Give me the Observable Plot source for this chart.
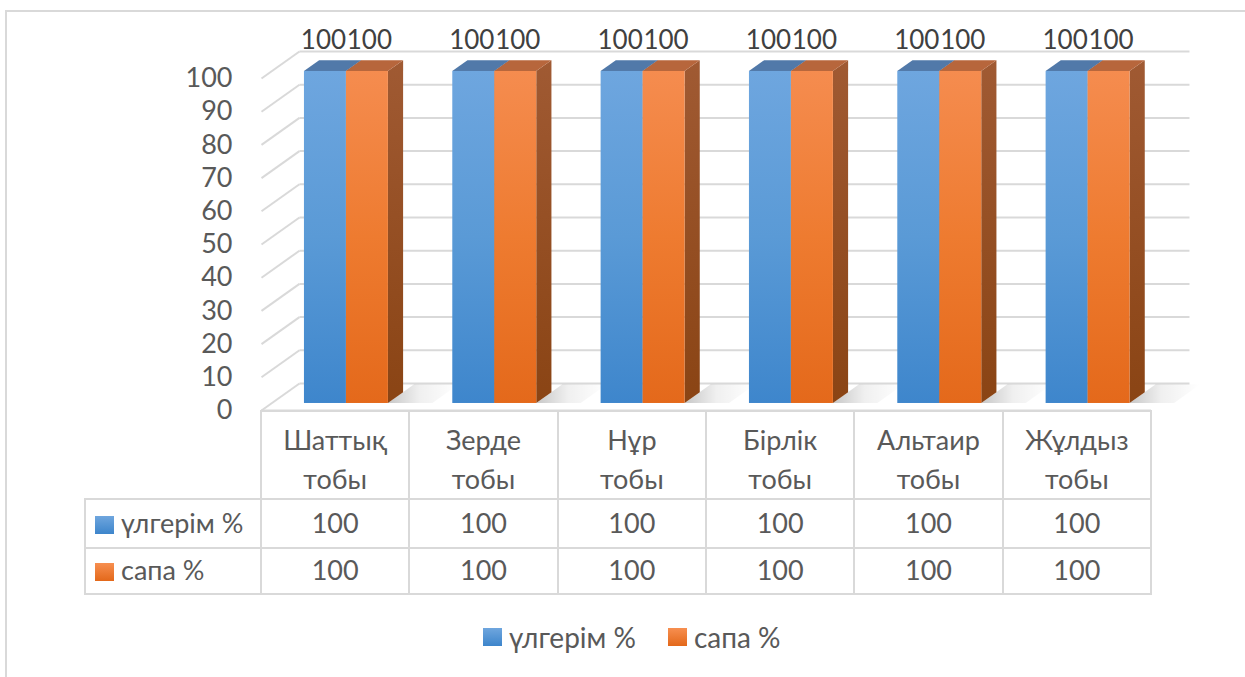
<!DOCTYPE html>
<html>
<head>
<meta charset="utf-8">
<script src="https://cdn.jsdelivr.net/npm/d3@7"></script>
<script src="https://cdn.jsdelivr.net/npm/@observablehq/plot@0.6"></script>
<style>
  body { margin: 0; background: #fff; }
  #wrap { position: relative; width: 1245px; height: 677px; overflow: hidden; font-family: Lato, "Open Sans", "Noto Sans", sans-serif; color: #595959; }
  #frame { position: absolute; left: 5px; top: 10px; width: 1400px; height: 800px; border-left: 2px solid #d9d9d9; border-top: 2px solid #d9d9d9; box-sizing: border-box; }
  #chart { position: absolute; left: 0; top: 0; }
  #chart svg { overflow: visible; }
  table.dt { position: absolute; border-collapse: collapse; table-layout: fixed; font-size: 27px; color: #595959; }
  table.dt td { border: 2px solid #d9d9d9; padding: 0 0 3px 0; text-align: center; vertical-align: middle; overflow: hidden; white-space: nowrap; }
  table.dt td.blank { border: none; }
  table.dt td.cat { vertical-align: top; padding: 8px 0 0 0; line-height: 39px; }
  table.dt td.ser { text-align: left; padding-left: 9px; }
  .sw { display: inline-block; width: 19px; height: 18px; vertical-align: -1px; margin-right: 7px; }
  .sw0 { background: linear-gradient(#6fa6de, #3d85cb); }
  .sw1 { background: linear-gradient(#f78f50, #e3681a); }
  #legend { position: absolute; top: 620px; left: 483px; display: flex; align-items: center; font-size: 28px; color: #595959; white-space: nowrap; }
  #legend .item { display: flex; align-items: center; margin-right: 32px; }
</style>
</head>
<body>
<div id="wrap">
  <div id="frame"></div>
  <div id="chart"></div>
  <div id="legend"></div>
</div>
<script>
// ---- data ----
const groups = ["Шаттық тобы", "Зерде тобы", "Нұр тобы", "Бірлік тобы", "Альтаир тобы", "Жұлдыз тобы"];
const seriesNames = ["үлгерім %", "сапа %"];
const ulgerim = [100, 100, 100, 100, 100, 100];
const sapa = [100, 100, 100, 100, 100, 100];
const yTicks = [0, 10, 20, 30, 40, 50, 60, 70, 80, 90, 100];

// ---- 3D geometry (in scale units) ----
const depthX = 0.256, depthY = 8.13;   // full wall depth
const dFront = 0.26, dBack = 0.66;     // bar depth range
const barOffset = 0.223, barWidth = 0.283;
const seriesValues = [ulgerim, sapa];

const bars = [];
groups.forEach((g, i) => {
  seriesValues.forEach((vals, s) => {
    const x0 = i + barOffset + s * barWidth;
    bars.push({g, i, s, x0, x1: x0 + barWidth, v: vals[i], id: g + "|" + s});
  });
});
const sidePts = bars.flatMap(b => [dFront, dBack].map(d => ({id: b.id, s: b.s, x: b.x1 + d * depthX, y1: d * depthY, y2: b.v + d * depthY})));
const topPts = bars.flatMap(b => [dFront, dBack].map(d => ({id: b.id, s: b.s, y: b.v + d * depthY, x1: b.x0 + d * depthX, x2: b.x1 + d * depthX})));
const lastBars = bars.filter(b => b.s === seriesValues.length - 1);
const shadowPts = lastBars.flatMap(b => [dFront, 0.95].map(d => ({id: b.id, y: d * depthY, x1: b.x1 + d * depthX, x2: b.x1 + 0.3 + d * depthX})));

const frontFill = ["url(#gFront0)", "url(#gFront1)"];
const sideFill = ["url(#gSide0)", "url(#gSide1)"];
const topFill = ["#5179a9", "#b7663c"];

const barMarks = [];
seriesValues.forEach((_, s) => {
  barMarks.push(Plot.areaY(sidePts.filter(p => p.s === s), {x: "x", y1: "y1", y2: "y2", z: "id", fill: sideFill[s], curve: "linear"}));
  barMarks.push(Plot.areaX(topPts.filter(p => p.s === s), {y: "y", x1: "x1", x2: "x2", z: "id", fill: topFill[s], curve: "linear"}));
  barMarks.push(Plot.rect(bars.filter(b => b.s === s), {
    x1: b => b.x0 + dFront * depthX, x2: b => b.x1 + dFront * depthX,
    y1: dFront * depthY, y2: b => b.v + dFront * depthY, fill: frontFill[s]
  }));
});

const labelMarks = seriesValues.map((_, s) =>
  Plot.text(bars.filter(b => b.s === s), {
    x: b => (b.x0 + b.x1) / 2 + dFront * depthX, y: b => b.v + dFront * depthY,
    text: b => String(b.v), dy: -31, dx: s === 0 ? -2 : 2, fill: "#404040", fontSize: 26
  })
);

const chart = Plot.plot({
  width: 1245, height: 412,
  marginLeft: 261, marginRight: 94, marginTop: 78, marginBottom: 2,
  x: {domain: [0, groups.length], axis: null},
  y: {domain: [0, 100], ticks: 10, tickSize: 0, tickPadding: 29, label: null},
  style: {fontFamily: 'Lato, "Open Sans", "Noto Sans", sans-serif', fontSize: "27px", color: "#595959", background: "transparent", overflow: "visible"},
  marks: [
    // left wall diagonals
    Plot.link(yTicks, {x1: () => 0, y1: v => v, x2: () => depthX, y2: v => v + depthY, stroke: "#d9d9d9", strokeWidth: 2}),
    // back wall gridlines
    Plot.link(yTicks, {x1: () => depthX, y1: v => v + depthY, x2: () => groups.length + depthX, y2: v => v + depthY, stroke: "#d9d9d9", strokeWidth: 2}),
    // floor front edge
    Plot.ruleY([0], {x1: 0, x2: groups.length, stroke: "#d9d9d9", strokeWidth: 2}),
    // shadows
    Plot.areaX(shadowPts, {y: "y", x1: "x1", x2: "x2", z: "id", fill: "url(#gShadow)", curve: "linear"}),
    ...barMarks,
    ...labelMarks
  ]
});

d3.select(chart).insert("defs", ":first-child").html(`
  <linearGradient id="gFront0" x1="0" y1="0" x2="0" y2="1"><stop offset="0" stop-color="#6ea6df"/><stop offset="0.5" stop-color="#5a9ad6"/><stop offset="1" stop-color="#3e86cc"/></linearGradient>
  <linearGradient id="gFront1" x1="0" y1="0" x2="0" y2="1"><stop offset="0" stop-color="#f58c4f"/><stop offset="0.5" stop-color="#ee7b30"/><stop offset="1" stop-color="#e4691b"/></linearGradient>
  <linearGradient id="gSide0" x1="0" y1="0" x2="0" y2="1"><stop offset="0" stop-color="#4f7cb0"/><stop offset="1" stop-color="#2f5f92"/></linearGradient>
  <linearGradient id="gSide1" x1="0" y1="0" x2="0" y2="1"><stop offset="0" stop-color="#a05a33"/><stop offset="1" stop-color="#8a4414"/></linearGradient>
  <linearGradient id="gShadow" x1="0" y1="0" x2="1" y2="0"><stop offset="0" stop-color="#000" stop-opacity="0.22"/><stop offset="0.45" stop-color="#000" stop-opacity="0.06"/><stop offset="1" stop-color="#000" stop-opacity="0"/></linearGradient>
`);
document.getElementById("chart").appendChild(chart);

// ---- data table aligned with the x scale ----
const xs = chart.scale("x");
const edges = d3.range(groups.length + 1).map(i => xs.apply(i));
const tableLeft = 85;
const table = d3.select("#wrap").append("table").attr("class", "dt")
  .style("left", (tableLeft - 1) + "px").style("top", "410px")
  .style("width", (edges[edges.length - 1] - tableLeft + 2) + "px");
const cg = table.append("colgroup");
cg.append("col").style("width", (edges[0] - tableLeft) + "px");
for (let i = 0; i < groups.length; i++) cg.append("col").style("width", (edges[i + 1] - edges[i]) + "px");
const hr = table.append("tr").style("height", "86px");
hr.append("td").attr("class", "blank");
groups.forEach(g => {
  const sp = g.indexOf(" ");
  hr.append("td").attr("class", "cat").html(g.slice(0, sp) + "<br>" + g.slice(sp + 1));
});
const rowHeights = [49, 46];
seriesNames.forEach((name, s) => {
  const tr = table.append("tr").style("height", rowHeights[s] + "px");
  const td = tr.append("td").attr("class", "ser");
  td.append("span").attr("class", "sw sw" + s);
  td.append("span").text(name);
  seriesValues[s].forEach(v => tr.append("td").text(v));
});

// ---- legend ----
const lg = d3.select("#legend");
seriesNames.forEach((name, s) => {
  const it = lg.append("div").attr("class", "item");
  it.append("span").attr("class", "sw sw" + s);
  it.append("span").text(name);
});
</script>
</body>
</html>
